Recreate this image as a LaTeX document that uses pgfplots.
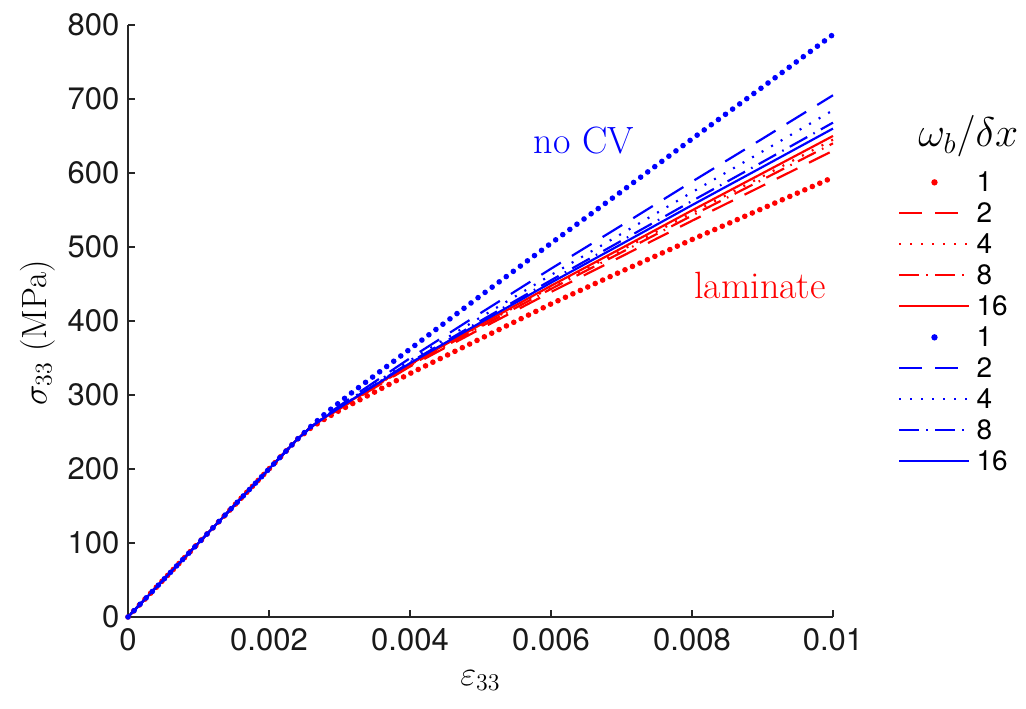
\documentclass[border=0pt]{standalone}
\usepackage{fontspec}
\usepackage{pgfplots}
\pgfplotsset{compat=1.18}
\newfontfamily\hv{TeX Gyre Heros}
\definecolor{axgray}{rgb}{0.15,0.15,0.15}
\begin{document}
\begin{tikzpicture}
\begin{axis}[
  scale only axis, width=352.5pt, height=296pt,
  xmin=0, xmax=0.01, ymin=0, ymax=800,
  axis x line=bottom, axis y line=left,
  axis line style={-, axgray, line width=0.75pt},
  tick align=inside, major tick length=3.5pt,
  tick style={axgray, line width=0.75pt},
  xtick={0,0.002,0.004,0.006,0.008,0.01},
  xticklabels={0,0.002,0.004,0.006,0.008,0.01},
  ytick={0,100,200,300,400,500,600,700,800},
  yticklabels={0,100,200,300,400,500,600,700,800},
  scaled x ticks=false,
  ticklabel style={font=\hv\fontsize{15.5}{18}\selectfont, text=black!90},
  xticklabel style={yshift=-2.3pt},
  yticklabel style={xshift=-0.8pt},
  xlabel={$\varepsilon_{33}$},
  ylabel={$\sigma_{33}$ (MPa)},
  label style={font=\fontsize{17.5}{20}\selectfont},
  xlabel style={at={(rel axis cs:0.5,-0.108)}, anchor=center},
  ylabel style={at={(rel axis cs:-0.128,0.48)}, anchor=center},
  clip=false,
  legend cell align=left,
  legend image code/.code={\draw[#1] (0pt,0pt) -- (35pt,0pt);},
  legend style={draw=none, fill=none, at={(1.0922,0.761)}, anchor=north west,
    inner sep=0pt, row sep=0pt, font=\hv\fontsize{14}{16}\selectfont,
    nodes={inner sep=0pt, text height=12.25pt, text depth=3.25pt},
    /tikz/column 1/.style={column sep=3pt}},
]
% red: laminate family
\addplot[red, line width=2.8pt, line cap=round, dash pattern=on 0pt off 4.1pt,
  legend image code/.code={\path[fill=red, draw=none, solid, line width=0pt] (17.5pt,0pt) circle[radius=1.6pt];}]
  coordinates {(0,0)(0.0024,240)(0.0026,256)(0.0028,268)(0.003,279)(0.0032,289)(0.004,329)(0.005,376)(0.006,423)(0.007,467)(0.008,510)(0.009,552)(0.01,594)};
\addlegendentry{1}
\addplot[red, line width=1.1pt, dash pattern=on 11.5pt off 6.5pt]
  coordinates {(0,0)(0.0024,240)(0.0026,257)(0.0028,269.3)(0.0032,292.8)(0.004,338.4)(0.005,389.3)(0.006,439.1)(0.007,487.2)(0.008,535.4)(0.009,582.7)(0.01,630)};
\addlegendentry{2}
\addplot[red, line width=1.1pt, dash pattern=on 1pt off 4.5pt]
  coordinates {(0,0)(0.0024,240)(0.0026,257)(0.0028,269.8)(0.0032,294.0)(0.004,340.7)(0.005,393.5)(0.006,445.4)(0.007,495.5)(0.008,545.9)(0.009,595.3)(0.01,645)};
\addlegendentry{4}
\addplot[red, line width=1.1pt, dash pattern=on 10pt off 3.5pt on 0.8pt off 3.5pt]
  coordinates {(0,0)(0.0024,240)(0.0026,257)(0.0028,269.7)(0.0032,293.6)(0.004,339.9)(0.005,392.1)(0.006,443.3)(0.007,492.7)(0.008,542.4)(0.009,591.0)(0.01,640)};
\addlegendentry{8}
\addplot[red, line width=1.1pt]
  coordinates {(0,0)(0.0024,240)(0.0026,257)(0.0028,270.0)(0.0032,294.4)(0.004,341.4)(0.005,395.0)(0.006,447.5)(0.007,498.3)(0.008,549.4)(0.009,599.6)(0.01,650)};
\addlegendentry{16}
% blue: no CV family
\addplot[blue, line width=2.8pt, line cap=round, dash pattern=on 0pt off 4.4pt,
  legend image code/.code={\path[fill=blue, draw=none, solid, line width=0pt] (17.5pt,0pt) circle[radius=1.6pt];}]
  coordinates {(0,0)(0.0024,240)(0.0026,258)(0.0028,275)(0.0032,305)(0.004,362)(0.005,434)(0.006,505)(0.007,575)(0.008,646)(0.009,716)(0.01,787)};
\addlegendentry{1}
\addplot[blue, line width=1.1pt, dash pattern=on 11.5pt off 6.5pt]
  coordinates {(0,0)(0.0024,240)(0.0026,257)(0.0028,272.0)(0.0032,298.6)(0.004,349.7)(0.005,410.6)(0.006,470.6)(0.007,529.1)(0.008,588.2)(0.009,646.3)(0.01,705)};
\addlegendentry{2}
\addplot[blue, line width=1.1pt, dash pattern=on 1pt off 4.5pt]
  coordinates {(0,0)(0.0024,240)(0.0026,257)(0.0028,271.3)(0.0032,297.1)(0.004,346.6)(0.005,404.9)(0.006,462.1)(0.007,517.8)(0.008,573.9)(0.009,629.1)(0.01,684.7)};
\addlegendentry{4}
\addplot[blue, line width=1.1pt, dash pattern=on 10pt off 3.5pt on 0.8pt off 3.5pt]
  coordinates {(0,0)(0.0024,240)(0.0026,257)(0.0028,270.7)(0.0032,295.7)(0.004,344.1)(0.005,400.1)(0.006,455.0)(0.007,508.4)(0.008,562.1)(0.009,614.8)(0.01,668)};
\addlegendentry{8}
\addplot[blue, line width=1.1pt]
  coordinates {(0,0)(0.0024,240)(0.0026,257)(0.0028,270.4)(0.0032,295.1)(0.004,342.9)(0.005,397.8)(0.006,451.7)(0.007,503.9)(0.008,556.5)(0.009,608.1)(0.01,660)};
\addlegendentry{16}
\node[blue, font=\fontsize{19}{22}\selectfont, anchor=base] at (axis cs:0.006468,626) {no CV};
\node[red, font=\fontsize{19}{22}\selectfont, anchor=base] at (axis cs:0.008965,430.5) {laminate};
\node[font=\fontsize{21.5}{25}\selectfont, anchor=base] at (rel axis cs:1.192,0.794) {$\omega_b/\delta x$};
\coordinate (bl) at (rel axis cs:-0.1816,-0.1554);
\coordinate (tr) at (rel axis cs:1.2738,1.0422);
\end{axis}
\pgfresetboundingbox
\path[use as bounding box] (bl) rectangle (tr);
\end{tikzpicture}
\end{document}
